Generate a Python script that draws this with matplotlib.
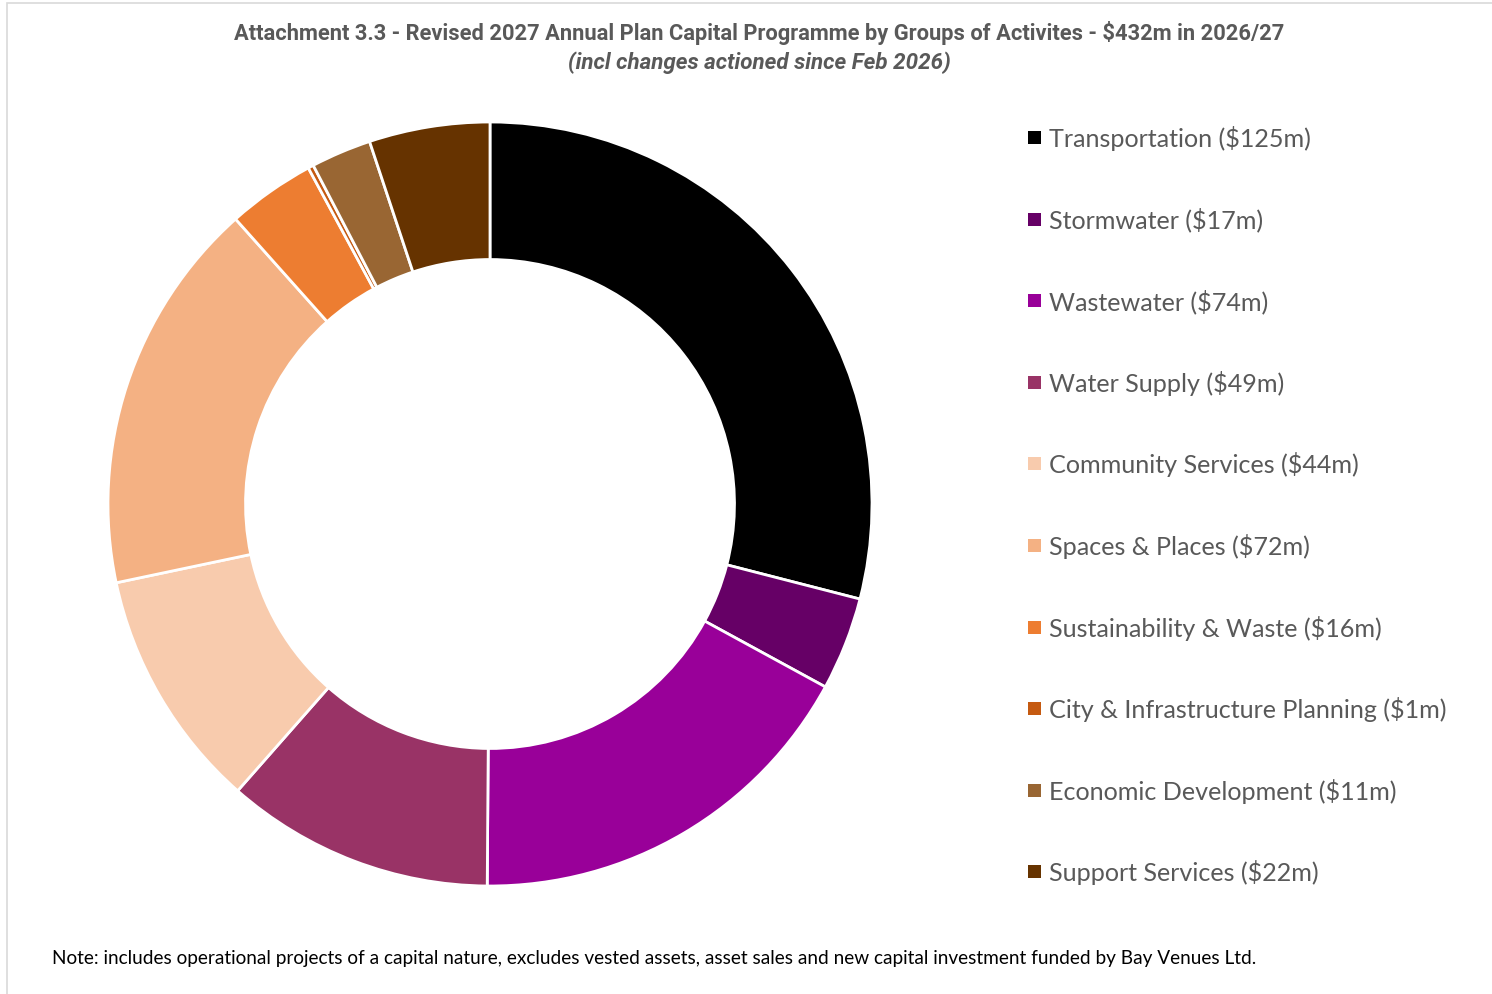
import matplotlib.pyplot as plt
from matplotlib.patches import Rectangle

# capital programme by group of activities, $m
groups = ['Transportation', 'Stormwater', 'Wastewater', 'Water Supply',
          'Community Services', 'Spaces & Places', 'Sustainability & Waste',
          'City & Infrastructure Planning', 'Economic Development',
          'Support Services']
values = [125, 17, 74, 49, 44, 72, 16, 1, 11, 22]
colors = ['#000000', '#660066', '#990099', '#993366', '#F8CBAD',
          '#F4B183', '#ED7D31', '#C55A11', '#996633', '#663300']

W, H = 1492, 995
fig = plt.figure(figsize=(W / 100, H / 100), dpi=100)
fig.patch.set_facecolor('white')

# light chart-area border
fig.patches.append(Rectangle((7 / W, -0.1), 1.2, 1 - 4 / H + 0.1,
                             transform=fig.transFigure, fill=False,
                             edgecolor='#D9D9D9', linewidth=1.2))

# donut
cx, cy, r = 490, 505, 382
ax = fig.add_axes([(cx - r) / W, (H - cy - r) / H, 2 * r / W, 2 * r / H])
ax.pie(values, colors=colors, startangle=90, counterclock=False, radius=1,
       wedgeprops=dict(width=0.36, edgecolor='white', linewidth=2))
ax.set_xlim(-1, 1)
ax.set_ylim(-1, 1)
ax.set_aspect('equal')
ax.axis('off')

# titles
fig.text(759.5 / W, 1 - 33 / H,
         'Attachment 3.3 - Revised 2027 Annual Plan Capital Programme by Groups of Activites - $432m in 2026/27',
         ha='center', va='center', fontsize=15.75, fontweight='bold',
         color='#595959', family='Roboto')
fig.text(759.5 / W, 1 - 63 / H, '(incl changes actioned since Feb 2026)',
         ha='center', va='center', fontsize=16.1, fontweight='bold',
         style='italic', color='#595959', family='Roboto')

# legend
for i, (g, v, c) in enumerate(zip(groups, values, colors)):
    y = 138.5 + i * 81.6
    fig.patches.append(Rectangle((1028 / W, 1 - (y + 6.5) / H), 13 / W, 13 / H,
                                 transform=fig.transFigure, facecolor=c,
                                 edgecolor='none'))
    fig.text(1049 / W, 1 - y / H, f'{g} (${v}m)', ha='left', va='center',
             fontsize=18.05, color='#595959', family='Lato')

# footnote
fig.text(52 / W, 1 - 958.5 / H,
         'Note: includes operational projects of a capital nature, excludes vested assets, asset sales and new capital investment funded by Bay Venues Ltd.',
         ha='left', va='center', fontsize=13.7, color='#000000',
         family='Lato')

fig.savefig('out.png', dpi=100, facecolor='white')
